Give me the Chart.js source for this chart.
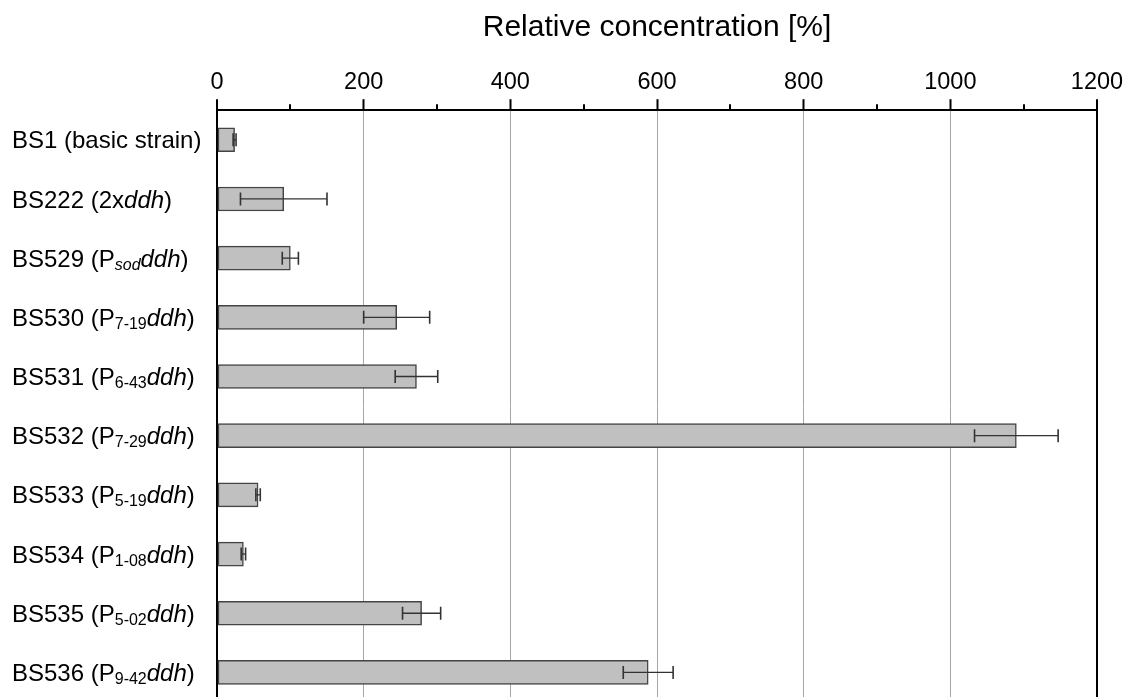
<!DOCTYPE html>
<html>
<head>
<meta charset="utf-8">
<script src="https://cdn.jsdelivr.net/npm/chart.js@4.4.1/dist/chart.umd.min.js"></script>
<style>
  html, body { margin: 0; padding: 0; background: #fff; overflow: hidden; }
  #wrap { width: 1133px; height: 702px; position: relative; }
</style>
</head>
<body>
<div id="wrap"><canvas id="c"></canvas></div>
<script>
// ---- data ----
const categories = [
  'BS1 (basic strain)', 'BS222 (2xddh)', 'BS529 (Psodddh)', 'BS530 (P7-19ddh)',
  'BS531 (P6-43ddh)', 'BS532 (P7-29ddh)', 'BS533 (P5-19ddh)', 'BS534 (P1-08ddh)',
  'BS535 (P5-02ddh)', 'BS536 (P9-42ddh)'
];
// rich label parts: [text, style] where style: '' normal, 'i' italic, 's' subscript, 'si' italic subscript
const labelParts = [
  [['BS1 (basic strain)', '']],
  [['BS222 (2x', ''], ['ddh', 'i'], [')', '']],
  [['BS529 (P', ''], ['sod', 'si'], ['ddh', 'i'], [')', '']],
  [['BS530 (P', ''], ['7-19', 's'], ['ddh', 'i'], [')', '']],
  [['BS531 (P', ''], ['6-43', 's'], ['ddh', 'i'], [')', '']],
  [['BS532 (P', ''], ['7-29', 's'], ['ddh', 'i'], [')', '']],
  [['BS533 (P', ''], ['5-19', 's'], ['ddh', 'i'], [')', '']],
  [['BS534 (P', ''], ['1-08', 's'], ['ddh', 'i'], [')', '']],
  [['BS535 (P', ''], ['5-02', 's'], ['ddh', 'i'], [')', '']],
  [['BS536 (P', ''], ['9-42', 's'], ['ddh', 'i'], [')', '']]
];
const values = [24, 91, 100, 245, 272, 1090, 56, 36, 279, 588];
const errors = [2, 59, 11, 45, 29, 57, 3, 3, 26, 34];
const axisTitle = 'Relative concentration [%]';
const xMin = 0, xMax = 1200, majorStep = 200, minorStep = 100;

const FONT = '"Liberation Sans", Arial, sans-serif';

const errorBarPlugin = {
  id: 'errorBars',
  afterDatasetsDraw(chart) {
    const ctx = chart.ctx;
    const x = chart.scales.x;
    const meta = chart.getDatasetMeta(0);
    ctx.save();
    ctx.strokeStyle = '#333';
    meta.data.forEach((bar, i) => {
      const y = bar.y;
      const x1 = x.getPixelForValue(values[i] - errors[i]);
      const x2 = x.getPixelForValue(values[i] + errors[i]);
      ctx.lineWidth = 1.3;
      ctx.beginPath();
      ctx.moveTo(x1, y); ctx.lineTo(x2, y);
      ctx.stroke();
      ctx.lineWidth = 1.6;
      ctx.beginPath();
      ctx.moveTo(x1, y - 6.5); ctx.lineTo(x1, y + 6.5);
      ctx.moveTo(x2, y - 6.5); ctx.lineTo(x2, y + 6.5);
      ctx.stroke();
    });
    ctx.restore();
  }
};

const axisDecorPlugin = {
  id: 'axisDecor',
  afterDraw(chart) {
    const ctx = chart.ctx;
    const x = chart.scales.x;
    const top = chart.chartArea.top;
    ctx.save();
    // minor ticks
    ctx.strokeStyle = '#000';
    ctx.lineWidth = 2;
    for (let v = xMin + minorStep; v < xMax; v += majorStep) {
      const px = Math.round(x.getPixelForValue(v));
      ctx.beginPath();
      ctx.moveTo(px, top);
      ctx.lineTo(px, top - 6);
      ctx.stroke();
    }
    // category labels with rich text
    const meta = chart.getDatasetMeta(0);
    const size = 24, subSize = 16;
    const leftX = 12;
    ctx.fillStyle = '#000';
    ctx.textBaseline = 'alphabetic';
    ctx.textAlign = 'left';
    const fontFor = (st) => {
      const it = st.includes('i') ? 'italic ' : '';
      const sz = st.includes('s') ? subSize : size;
      return it + sz + 'px ' + FONT;
    };
    meta.data.forEach((bar, i) => {
      const parts = labelParts[i];
      let cx = leftX;
      const base = bar.y + 8.6;
      parts.forEach(([t, st]) => {
        ctx.font = fontFor(st);
        const dy = st.includes('s') ? 3 : 0;
        ctx.fillText(t, cx, base + dy);
        cx += ctx.measureText(t).width;
      });
    });
    ctx.restore();
  }
};

new Chart(document.getElementById('c'), {
  type: 'bar',
  data: {
    labels: categories,
    datasets: [{
      data: values,
      backgroundColor: '#c0c0c0',
      borderColor: '#444',
      borderWidth: 1.5,
      borderSkipped: false,
      barThickness: 24
    }]
  },
  options: {
    indexAxis: 'y',
    responsive: true,
    maintainAspectRatio: false,
    animation: false,
    layout: { padding: { left: 217, right: 36, top: 0, bottom: 0 } },
    plugins: { legend: { display: false }, tooltip: { enabled: false } },
    scales: {
      x: {
        position: 'top',
        min: xMin, max: xMax,
        ticks: {
          stepSize: majorStep,
          color: '#000',
          padding: 3,
          font: { family: FONT, size: 23.5 },
          maxRotation: 0,
          callback: (v) => String(v)
        },
        grid: {
          color: (c) => (c.tick && (c.tick.value === xMin || c.tick.value === xMax)) ? '#000' : '#a6a6a6',
          lineWidth: (c) => (c.tick && (c.tick.value === xMin || c.tick.value === xMax)) ? 2 : 1,
          tickColor: '#000',
          tickWidth: 2,
          tickLength: 11
        },
        border: { display: true, color: '#000', width: 2 },
        title: {
          display: true,
          text: axisTitle,
          color: '#000',
          font: { family: FONT, size: 30 },
          padding: { top: 10, bottom: 19 }
        }
      },
      y: {
        display: false
      }
    }
  },
  plugins: [errorBarPlugin, axisDecorPlugin]
});
</script>
</body>
</html>
